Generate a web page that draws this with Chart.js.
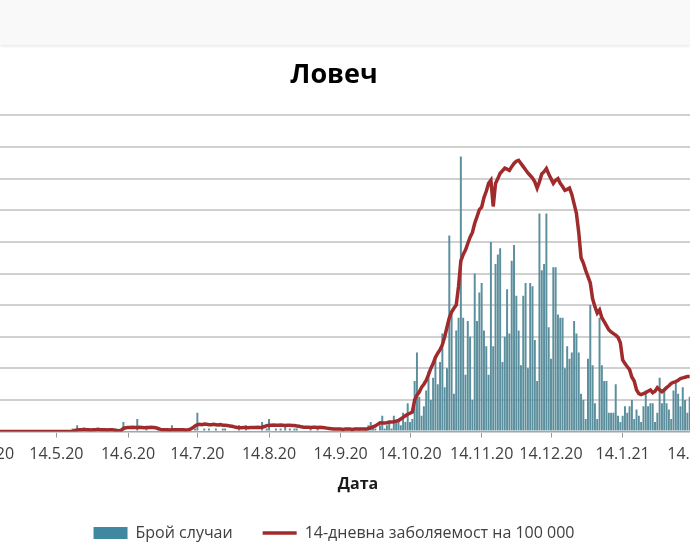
<!DOCTYPE html>
<html>
<head>
<meta charset="utf-8">
<title>Ловеч</title>
<script src="https://cdn.jsdelivr.net/npm/chart.js@4.4.0/dist/chart.umd.min.js"></script>
<style>
  html, body { margin: 0; padding: 0; width: 690px; height: 550px; overflow: hidden; background: #fff; }
  #band { position: absolute; left: 0; top: 0; width: 690px; height: 45px; background: #f9f9f9; box-shadow: 0 1px 3px rgba(0,0,0,0.12); }
  #wrap { position: absolute; left: -76px; top: 45px; width: 830px; height: 506px; }
</style>
</head>
<body>
<div id="band"></div>
<div id="wrap"><canvas id="chart"></canvas></div>
<script>
// first day on the axis is 8.4.20, one category per day
const firstDay = [2020, 3, 8];
const dayCount = 334;

const tickLabels = ['14.4.20', '14.5.20', '14.6.20', '14.7.20', '14.8.20', '14.9.20',
  '14.10.20', '14.11.20', '14.12.20', '14.1.21', '14.2.21'];

// daily cases (Брой случаи), from 8.4.20
const cases = [
  0,0,0,0,0,0,0,0,0,0,0,0,
  0,0,0,0,0,0,0,0,0,0,
  0,0,0,0,0,0,0,0,0,0,
  0,0,0,0,0,0,0,0,0,0,
  0,1,0,2,0,0,0,0,0,0,
  0,0,0,0,0,0,1,0,0,0,
  1,0,0,3,0,0,0,0,0,4,
  0,0,0,1,0,0,0,0,1,0,
  0,0,0,0,2,0,0,0,0,0,
  0,0,0,0,1,6,0,0,1,0,
  1,0,0,1,0,0,1,1,0,0,
  0,0,0,2,0,0,2,0,0,0,
  0,0,0,3,0,1,4,0,0,1,
  0,1,0,2,0,1,0,1,1,0,
  0,0,0,0,1,0,0,1,0,0,
  0,0,0,0,0,0,0,0,0,0,
  1,0,0,0,0,1,0,0,
  1,2,3,2,1,0,2,5,1,2,
  3,1,5,3,4,2,6,3,9,3,
  4,16,25,11,5,8,13,19,10,17,
  23,15,22,31,14,20,62,37,12,32,
  36,87,36,18,35,30,10,50,35,44,
  47,32,27,18,60,27,53,56,58,22,
  30,45,31,54,59,43,32,21,43,47,
  20,47,46,29,16,69,51,53,69,33,
  23,52,52,37,36,36,20,27,23,25,
  35,31,25,12,10,4,23,40,21,9,
  4,36,21,16,16,6,6,6,15,5,
  3,5,8,6,8,10,4,7,5,3,
  8,13,8,9,9,3,6,17,9,13,
  9,7,4,13,16,12,8,14,10,6,
  11
];

// 14-day incidence per 100 000, from 8.4.20
const incidence = [
  0,0,0,0,0,0,0,0,0,0,0,0,
  0,0,0,0,0,0,0,0,0,0,
  0,0,0,0,0,0,0,0,0,0,
  0,0,0,0,0,0,0,0,0,0,
  0,0,4,5,6,6,7,6,6,5,
  6,6,7,6,6,6,5,6,6,5,
  3,3,4,10,12,13,13,14,13,13,
  14,13,12,13,13,14,13,12,10,7,
  6,6,6,5,6,6,6,6,6,6,
  5,6,8,12,18,22,23,22,24,23,
  22,22,23,22,21,22,20,20,19,18,
  17,15,13,13,12,13,13,12,13,13,
  13,14,13,14,16,19,20,20,21,20,
  20,21,20,19,20,20,19,19,18,17,
  15,14,14,14,13,14,14,13,14,13,
  12,11,10,9,8,8,8,8,7,8,
  8,8,7,8,8,8,8,8,
  8,10,12,15,18,23,28,27,27,28,
  30,30,31,33,35,40,45,50,55,58,
  62,100,115,125,140,150,162,180,200,215,
  235,248,259,275,300,330,360,378,390,400,
  460,540,560,574,595,615,630,659,680,702,
  710,740,760,785,795,712,785,800,817,825,
  833,830,826,838,848,855,858,848,838,828,
  818,810,802,790,770,790,815,822,832,815,
  800,785,795,800,785,775,763,766,770,750,
  720,690,630,550,533,510,490,470,420,395,
  375,385,360,348,335,322,315,310,305,298,
  281,227,215,205,196,172,160,132,120,117,
  120,123,128,132,123,128,139,132,126,132,
  139,145,152,156,158,162,168,170,172,174,
  174
];

const days = [];
for (let k = 0; k < dayCount; k++) {
  const d = new Date(firstDay[0], firstDay[1], firstDay[2] + k);
  days.push(d.getDate() + '.' + (d.getMonth() + 1) + '.' + String(d.getFullYear()).slice(2));
}

Chart.defaults.font.family = "'Open Sans', sans-serif";

const chart = new Chart(document.getElementById('chart'), {
  type: 'bar',
  data: {
    labels: days,
    datasets: [
      {
        label: 'Брой случаи',
        data: cases,
        backgroundColor: '#5b8f9d',
        barPercentage: 0.85,
        categoryPercentage: 1,
        pointStyle: 'rect',
        yAxisID: 'y',
        order: 1
      },
      {
        type: 'line',
        label: '14-дневна заболяемост на 100 000',
        data: incidence,
        borderColor: '#a02b2c',
        backgroundColor: '#a02b2c',
        borderWidth: 3.5,
        pointRadius: 0,
        pointStyle: 'line',
        tension: 0,
        yAxisID: 'y1',
        order: 0
      }
    ]
  },
  options: {
    responsive: true,
    maintainAspectRatio: false,
    animation: false,
    layout: { padding: { left: 0, right: 10, top: 0, bottom: 0 } },
    plugins: {
      title: {
        display: true,
        text: 'Ловеч',
        color: '#000',
        font: { size: 27, weight: 'bold' },
        padding: { top: 14, bottom: 24 }
      },
      legend: {
        position: 'bottom',
        labels: {
          usePointStyle: true,
          pointStyleWidth: 34,
          boxHeight: 12,
          padding: 30,
          color: '#404040',
          font: { size: 16 },
          sort: (a, b) => a.datasetIndex - b.datasetIndex,
          generateLabels: (c) => {
            const items = Chart.defaults.plugins.legend.labels.generateLabels(c);
            // the swatch looks a little deeper than the thin bars
            items.forEach((it) => { if (it.datasetIndex === 0) it.fillStyle = '#40889f'; });
            return items;
          }
        }
      },
      tooltip: { enabled: false }
    },
    scales: {
      x: {
        offset: true,
        grid: {
          offset: false,
          drawOnChartArea: false,
          tickLength: 6,
          tickColor: (ctx) => (ctx.tick && tickLabels.includes(days[ctx.tick.value]) ? '#9a9a9a' : 'rgba(0,0,0,0)')
        },
        border: { color: '#a6a6a6', width: 1 },
        ticks: {
          autoSkip: false,
          maxRotation: 0,
          minRotation: 0,
          padding: 7,
          color: '#404040',
          font: { size: 16 },
          callback: function (value) {
            const l = this.getLabelForValue(value);
            return tickLabels.includes(l) ? l : null;
          }
        },
        title: {
          display: true,
          text: 'Дата',
          color: '#1a1a1a',
          font: { size: 16, weight: 'bold' },
          padding: { top: 4, bottom: 1 }
        }
      },
      y: {
        position: 'left',
        min: 0,
        max: 100,
        ticks: { display: false, stepSize: 10 },
        grid: { color: '#d0d0d0', lineWidth: 2, drawTicks: false },
        border: { display: false },
        afterFit: (scale) => { scale.width = 48; }
      },
      y1: {
        display: false,
        position: 'right',
        min: 0,
        max: 1000
      }
    }
  }
});
</script>
</body>
</html>
